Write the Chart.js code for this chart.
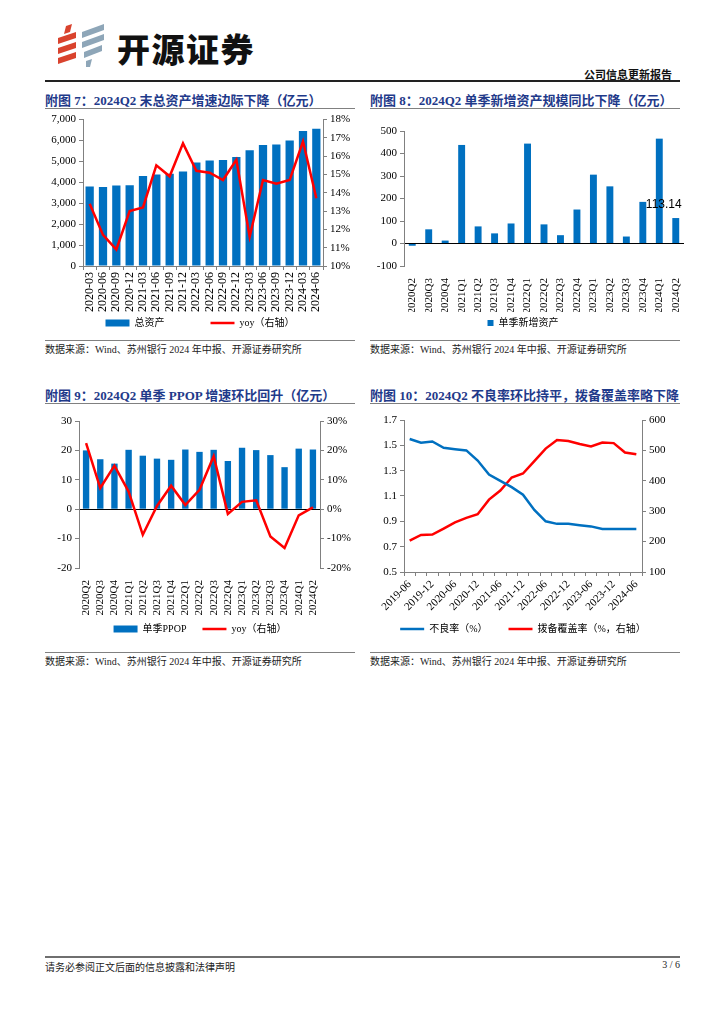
<!DOCTYPE html>
<html>
<head>
<meta charset="utf-8">
<script src="https://cdn.jsdelivr.net/npm/chart.js@4.4.1/dist/chart.umd.min.js"></script>
<style>
  body { margin: 0; background: #fff; width: 724px; height: 1024px; position: relative; overflow: hidden;
         font-family: "Liberation Serif", "Noto Sans CJK SC", serif; }
  .abs { position: absolute; }
  .title { font-size: 13px; font-weight: bold; color: #1f3a8a; white-space: nowrap; }
  .rule { height: 0; border-top: 1.5px solid #808080; }
  .src { font-size: 10px; color: #222; white-space: nowrap; }
  .box canvas { display: block; }
</style>
</head>
<body>

<!-- header -->
<svg class="abs" style="left:56px;top:24px" width="52" height="44" viewBox="0 0 52 44">
  <g fill="#d9432e">
    <polygon points="10,2 16,0 14,8 8,10"/>
    <polygon points="2,14 20,8 20,14 2,20"/>
    <polygon points="2,24 20,18 20,24 2,30"/>
    <polygon points="2,34 20,28 20,34 2,40"/>
  </g>
  <g fill="#8ea6b8">
    <polygon points="26,8 48,0 48,6 26,14"/>
    <polygon points="26,18 48,10 48,16 26,24"/>
    <polygon points="28,28 46,21 46,27 28,34"/>
    <polygon points="30,37 36,35 34,43 30,43"/>
  </g>
</svg>
<div class="abs" style="left:117px;top:24px;font-family:'Noto Sans CJK SC';font-weight:900;font-size:33px;letter-spacing:1.5px;color:#111">开源证券</div>
<div class="abs" style="right:52px;top:66px;font-family:'Noto Sans CJK SC';font-weight:bold;font-size:11px;color:#111">公司信息更新报告</div>
<div class="abs" style="left:45px;top:80px;width:635px;height:0;border-top:2px solid #222"></div>

<!-- titles -->
<div class="abs title" style="left:45px;top:90px">附图 7：2024Q2 末总资产增速边际下降（亿元）</div>
<div class="abs rule" style="left:45px;top:108px;width:310px"></div>
<div class="abs title" style="left:370px;top:90px">附图 8：2024Q2 单季新增资产规模同比下降（亿元）</div>
<div class="abs rule" style="left:370px;top:108px;width:310px"></div>
<div class="abs title" style="left:45px;top:385px">附图 9：2024Q2 单季 PPOP 增速环比回升（亿元）</div>
<div class="abs rule" style="left:45px;top:403px;width:310px"></div>
<div class="abs title" style="left:370px;top:385px">附图 10：2024Q2 不良率环比持平，拨备覆盖率略下降</div>
<div class="abs rule" style="left:370px;top:403px;width:310px"></div>

<!-- charts -->
<div class="abs box" style="left:45px;top:110px;width:310px;height:228px"><canvas id="c7"></canvas></div>
<div class="abs box" style="left:362px;top:113px;width:322px;height:225px"><canvas id="c8"></canvas></div>
<div class="abs box" style="left:45px;top:408px;width:310px;height:236px"><canvas id="c9"></canvas></div>
<div class="abs box" style="left:362px;top:408px;width:322px;height:236px"><canvas id="c10"></canvas></div>

<!-- sources -->
<div class="abs rule" style="left:45px;top:340px;width:310px"></div>
<div class="abs src" style="left:45px;top:341px">数据来源：Wind、苏州银行 2024 年中报、开源证券研究所</div>
<div class="abs rule" style="left:370px;top:340px;width:310px"></div>
<div class="abs src" style="left:370px;top:341px">数据来源：Wind、苏州银行 2024 年中报、开源证券研究所</div>
<div class="abs rule" style="left:45px;top:652px;width:310px"></div>
<div class="abs src" style="left:45px;top:653px">数据来源：Wind、苏州银行 2024 年中报、开源证券研究所</div>
<div class="abs rule" style="left:370px;top:652px;width:310px"></div>
<div class="abs src" style="left:370px;top:653px">数据来源：Wind、苏州银行 2024 年中报、开源证券研究所</div>

<!-- footer -->
<div class="abs" style="left:45px;top:956px;width:635px;height:0;border-top:2px solid #6f6f6f"></div>
<div class="abs src" style="left:45px;top:959px">请务必参阅正文后面的信息披露和法律声明</div>
<div class="abs src" style="right:44px;top:959px">3 / 6</div>

<script>
// ---- data ----
const quarterEnds = ['2020-03', '2020-06', '2020-09', '2020-12', '2021-03', '2021-06', '2021-09', '2021-12',
    '2022-03', '2022-06', '2022-09', '2022-12', '2023-03', '2023-06', '2023-09', '2023-12', '2024-03', '2024-06'];
const totalAssets = [3800, 3780, 3850, 3860, 4300, 4380, 4410, 4520, 4950, 5040, 5070, 5210, 5530, 5790, 5810, 6000, 6450, 6560];
const totalAssetsYoy = [13.4, 11.7, 10.9, 13.0, 13.2, 15.5, 14.9, 16.7, 15.2, 15.1, 14.7, 15.8, 11.6, 14.7, 14.5, 14.7, 16.8, 13.7];

const quarters = ['2020Q2', '2020Q3', '2020Q4', '2021Q1', '2021Q2', '2021Q3', '2021Q4', '2022Q1', '2022Q2',
    '2022Q3', '2022Q4', '2023Q1', '2023Q2', '2023Q3', '2023Q4', '2024Q1', '2024Q2'];
const newAssets = [-10, 63, 13, 438, 76, 45, 89, 444, 85, 37, 151, 306, 254, 31, 185, 466, 113.14];

const ppop = [20.0, 17.0, 15.5, 20.2, 18.2, 17.2, 16.8, 20.3, 19.5, 20.2, 16.4, 20.9, 20.1, 18.4, 14.3, 20.6, 20.3];
const ppopYoy = [22.5, 7.2, 14.8, 6.0, -8.7, 1.1, 8.0, 1.4, 6.6, 18.0, -1.6, 2.5, 3.0, -9.3, -13.2, -2.1, 0.6];

const months = ['2019-06', '2019-09', '2019-12', '2020-03', '2020-06', '2020-09', '2020-12', '2021-03', '2021-06',
    '2021-09', '2021-12', '2022-03', '2022-06', '2022-09', '2022-12', '2023-03', '2023-06', '2023-09', '2023-12',
    '2024-03', '2024-06'];
const nplRatio = [1.55, 1.52, 1.53, 1.48, 1.47, 1.46, 1.38, 1.27, 1.22, 1.17, 1.11, 0.99, 0.90, 0.88, 0.88, 0.87, 0.86, 0.84, 0.84, 0.84, 0.84];
const coverage = [203, 222, 223, 243, 263, 278, 290, 338, 368, 411, 424, 465, 506, 534, 531, 521, 513, 526, 524, 493, 487];

// ---- style ----
const BLUE = '#0070c0';
const RED = '#ff0000';
const AXIS = '#808080';
const tickFont = { family: 'Liberation Serif', size: 11 };
const legendFont = { family: "'Liberation Serif', 'Noto Sans CJK SC'", size: 10 };

Chart.defaults.animation = false;
Chart.defaults.color = '#000';

const fixSize = (w) => (scale) => { scale.width = w; };
const fixHeight = (h) => (scale) => { scale.height = h; scale.paddingLeft = 0; scale.paddingRight = 0; };

const valueAxis = (position, min, max, step, fmt, width, extra) => Object.assign({
    position, min, max,
    ticks: { stepSize: step, font: tickFont, color: '#000', padding: 3, callback: fmt },
    grid: { drawOnChartArea: false, tickLength: 4, color: AXIS },
    border: { color: AXIS },
    afterFit: fixSize(width),
}, extra || {});

const zeroLine = {
    drawOnChartArea: true, tickLength: 4, tickColor: AXIS,
    color: (ctx) => (ctx.tick && ctx.tick.value === 0 ? '#000' : 'rgba(0,0,0,0)'),
};

// gaps: extra full-width spaces after each legend text, to spread the items like the original
const legendOpts = (boxW, boxH, gaps) => ({
    position: 'bottom',
    labels: {
        usePointStyle: true, pointStyleWidth: boxW, boxWidth: boxW, boxHeight: boxH,
        font: legendFont, color: '#000', padding: 6,
        generateLabels(chart) {
            const items = Chart.defaults.plugins.legend.labels.generateLabels(chart);
            items.forEach((it, i) => { it.text += '\u3000'.repeat(gaps[i] || 0); });
            return items;
        },
    },
});

const commaFmt = (v) => v.toLocaleString('en-US');
const pctFmt = (v) => v + '%';

// ---- 附图 7 ----
new Chart(document.getElementById('c7'), {
    data: {
        labels: quarterEnds,
        datasets: [
            { type: 'line', label: 'yoy（右轴）', data: totalAssetsYoy, yAxisID: 'y1', borderColor: RED,
              backgroundColor: RED, borderWidth: 2.5, pointRadius: 0, pointStyle: 'line', tension: 0 },
            { type: 'bar', label: '总资产', data: totalAssets, yAxisID: 'y', backgroundColor: BLUE,
              pointStyle: 'rect', barPercentage: 0.62, categoryPercentage: 1 },
        ],
    },
    options: {
        responsive: true, maintainAspectRatio: false,
        layout: { padding: { top: 9, right: 0, left: 0, bottom: 0 } },
        plugins: {
            legend: Object.assign(legendOpts(24, 7, [0, 4]), { reverse: true }),
            tooltip: { enabled: false },
        },
        scales: {
            x: { ticks: { font: { family: 'Liberation Serif', size: 12 }, color: '#000', minRotation: 90, maxRotation: 90,
                          autoSkip: false, padding: 2 },
                 grid: { drawOnChartArea: false, tickLength: 4, color: AXIS, offset: true }, border: { color: AXIS },
                 afterFit: fixHeight(46) },
            y: valueAxis('left', 0, 7000, 1000, commaFmt, 38),
            y1: valueAxis('right', 10, 18, 1, pctFmt, 32),
        },
    },
});

// ---- 附图 8 ----
const lastLabel = {
    id: 'lastLabel',
    afterDatasetsDraw(chart) {
        const meta = chart.getDatasetMeta(0);
        const i = newAssets.length - 1;
        const bar = meta.data[i];
        const ctx = chart.ctx;
        ctx.save();
        ctx.font = '12px "Liberation Sans"';
        ctx.fillStyle = '#000';
        ctx.textAlign = 'center';
        ctx.textBaseline = 'middle';
        ctx.fillText(newAssets[i].toFixed(2), bar.x - 12, bar.y - 13);
        ctx.restore();
    },
};

new Chart(document.getElementById('c8'), {
    type: 'bar',
    data: {
        labels: quarters,
        datasets: [
            { label: '单季新增资产', data: newAssets, backgroundColor: BLUE, pointStyle: 'rect',
              barPercentage: 0.42, categoryPercentage: 1 },
        ],
    },
    options: {
        responsive: true, maintainAspectRatio: false,
        layout: { padding: { top: 18, right: 0, left: 0, bottom: 0 } },
        plugins: { legend: legendOpts(6, 6, [0]), tooltip: { enabled: false } },
        scales: {
            x: { ticks: { font: tickFont, color: '#000', minRotation: 90, maxRotation: 90, autoSkip: false, padding: 4 },
                 grid: { display: false }, border: { display: false }, afterFit: fixHeight(46) },
            y: valueAxis('left', -100, 500, 100, (v) => v, 42, { grid: zeroLine }),
        },
    },
    plugins: [lastLabel],
});

// ---- 附图 9 ----
new Chart(document.getElementById('c9'), {
    data: {
        labels: quarters,
        datasets: [
            { type: 'line', label: 'yoy（右轴）', data: ppopYoy, yAxisID: 'y1', borderColor: RED,
              backgroundColor: RED, borderWidth: 2.5, pointRadius: 0, pointStyle: 'line', tension: 0 },
            { type: 'bar', label: '单季PPOP', data: ppop, yAxisID: 'y', backgroundColor: BLUE,
              pointStyle: 'rect', barPercentage: 0.45, categoryPercentage: 1 },
        ],
    },
    options: {
        responsive: true, maintainAspectRatio: false,
        layout: { padding: { top: 13, right: 0, left: 0, bottom: 0 } },
        plugins: {
            legend: Object.assign(legendOpts(24, 7, [0, 1]), { reverse: true }),
            tooltip: { enabled: false },
        },
        scales: {
            x: { ticks: { font: tickFont, color: '#000', minRotation: 90, maxRotation: 90, autoSkip: false, padding: 4 },
                 grid: { display: false }, border: { display: false }, afterFit: fixHeight(50) },
            y: valueAxis('left', -20, 30, 5, (v) => v, 34, { grid: zeroLine }),
            y1: valueAxis('right', -20, 30, 5, pctFmt, 35),
        },
    },
});

// ---- 附图 10 ----
new Chart(document.getElementById('c10'), {
    type: 'line',
    data: {
        labels: months,
        datasets: [
            { label: '不良率（%）', data: nplRatio, yAxisID: 'y', borderColor: BLUE, backgroundColor: BLUE,
              borderWidth: 2.5, pointRadius: 0, pointStyle: 'line', tension: 0 },
            { label: '拨备覆盖率（%，右轴）', data: coverage, yAxisID: 'y1', borderColor: RED, backgroundColor: RED,
              borderWidth: 2.5, pointRadius: 0, pointStyle: 'line', tension: 0 },
        ],
    },
    options: {
        responsive: true, maintainAspectRatio: false,
        layout: { padding: { top: 12, right: 0, left: 0, bottom: 0 } },
        plugins: { legend: legendOpts(24, 7, [2, 0]), tooltip: { enabled: false } },
        scales: {
            x: { offset: true,
                 ticks: { font: tickFont, color: '#000', minRotation: 45, maxRotation: 45, autoSkip: false, padding: 2,
                          callback: function (v, i) { return i % 2 === 0 ? this.getLabelForValue(v) : ''; } },
                 grid: { drawOnChartArea: false, tickLength: 4, color: AXIS, offset: true }, border: { color: AXIS },
                 afterFit: fixHeight(46) },
            y: valueAxis('left', 0.5, 1.7, 0.2, (v) => v.toFixed(1), 42),
            y1: valueAxis('right', 100, 600, 50, (v) => v, 42),
        },
    },
});
</script>
</body>
</html>
